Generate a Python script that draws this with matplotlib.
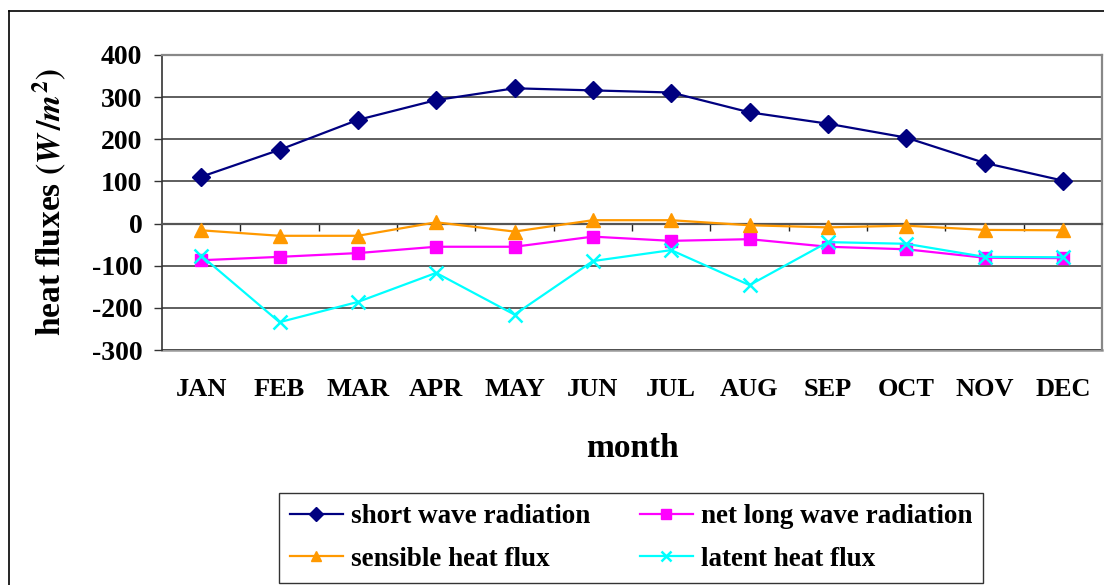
import matplotlib
matplotlib.use("Agg")
import matplotlib.pyplot as plt
from matplotlib.lines import Line2D

plt.rcParams['font.family'] = ['Liberation Serif', 'DejaVu Serif']
plt.rcParams['font.weight'] = 'bold'
plt.rcParams['mathtext.fontset'] = 'stix'

months = ['JAN', 'FEB', 'MAR', 'APR', 'MAY', 'JUN', 'JUL', 'AUG', 'SEP', 'OCT', 'NOV', 'DEC']
short_wave = [111, 175, 246, 293, 321, 316, 311, 264, 237, 204, 144, 102]
net_long_wave = [-87, -79, -70, -55, -55, -31, -41, -37, -55, -61, -81, -82]
sensible = [-16, -29, -29, 3, -19, 8, 8, -4, -9, -5, -15, -16]
latent = [-76, -234, -186, -117, -216, -89, -63, -146, -44, -48, -79, -80]
yticks = [-300, -200, -100, 0, 100, 200, 300, 400]

W, H = 1104, 585
fig = plt.figure(figsize=(W / 100, H / 100), dpi=100)
ax = fig.add_axes([162 / W, 1 - 350 / H, (1102 - 162) / W, (350 - 55) / H])

x = list(range(len(months)))
l1, = ax.plot(x, short_wave, color='#000080', lw=1.6, marker='D', ms=9, label='short wave radiation', zorder=5)
l2, = ax.plot(x, net_long_wave, color='#FF00FF', lw=1.6, marker='s', ms=8.5, label='net long wave radiation', zorder=4)
l3, = ax.plot(x, sensible, color='#FF9900', lw=1.6, marker='^', ms=10, label='sensible heat flux', zorder=4)
l4, = ax.plot(x, latent, color='#00FFFF', lw=1.6, marker='x', ms=10, mew=1.8, label='latent heat flux', zorder=6)

ax.set_xlim(-0.5, len(months) - 0.5)
ax.set_ylim(yticks[0], yticks[-1])
ax.set_yticks(yticks)
ax.set_yticklabels([str(v) for v in yticks], fontsize=20, fontweight='bold')
ax.tick_params(axis='y', direction='out', length=5.8, width=1, pad=8.4, color='#333333')
ax.yaxis.grid(True, color='#333333', lw=1.1)
ax.set_axisbelow(True)

# category axis crossing at zero with tick marks between categories
ax.spines['bottom'].set_position(('data', 0))
ax.spines['bottom'].set_color('#555555')
ax.spines['bottom'].set_linewidth(1.6)
ax.set_xticks([i + 0.5 for i in range(len(months) - 1)])
ax.set_xticklabels([])
ax.tick_params(axis='x', direction='out', length=5, width=1, color='#222222')

for s in ['top', 'right']:
    ax.spines[s].set_color('#888888')
    ax.spines[s].set_linewidth(1.6)
ax.spines['left'].set_color('#333333')
ax.spines['left'].set_linewidth(1.2)

sec = ax.secondary_xaxis(0)
sec.set_xticks(x)
sec.set_xticklabels(months, fontsize=19, fontweight='bold')
sec.tick_params(axis='x', length=0, pad=20)
sec.spines['bottom'].set_color('#999999')
sec.spines['bottom'].set_linewidth(1.8)
sec.set_xlabel('month', fontsize=24, fontweight='bold', labelpad=23)

fig.text(50 / W, 1 - 202 / H, r'heat fluxes $(W\,/m^{2})$', rotation=90,
         ha='center', va='center', fontsize=24, fontweight='bold')

leg = fig.legend([l1, l3, l2, l4], [l1.get_label(), l3.get_label(), l2.get_label(), l4.get_label()],
                 loc='center', bbox_to_anchor=(631 / W, 1 - 538 / H), ncol=2,
                 prop={'size': 19.5, 'weight': 'bold'}, frameon=True, fancybox=False,
                 edgecolor='#333333', framealpha=1, handlelength=1.95, columnspacing=1.85,
                 handletextpad=0.3, borderpad=0.4, labelspacing=0.66, borderaxespad=0)
leg.get_frame().set_linewidth(1.0)
for h in leg.legend_handles:
    h.set_markersize(7)

# outer chart frame
fig.add_artist(Line2D([9 / W, 9 / W], [0, 1 - 11 / H], transform=fig.transFigure, color='black', lw=1.2))
fig.add_artist(Line2D([9 / W, 1], [1 - 11 / H, 1 - 11 / H], transform=fig.transFigure, color='black', lw=1.2))

fig.savefig('out.png', dpi=100, facecolor='white')
